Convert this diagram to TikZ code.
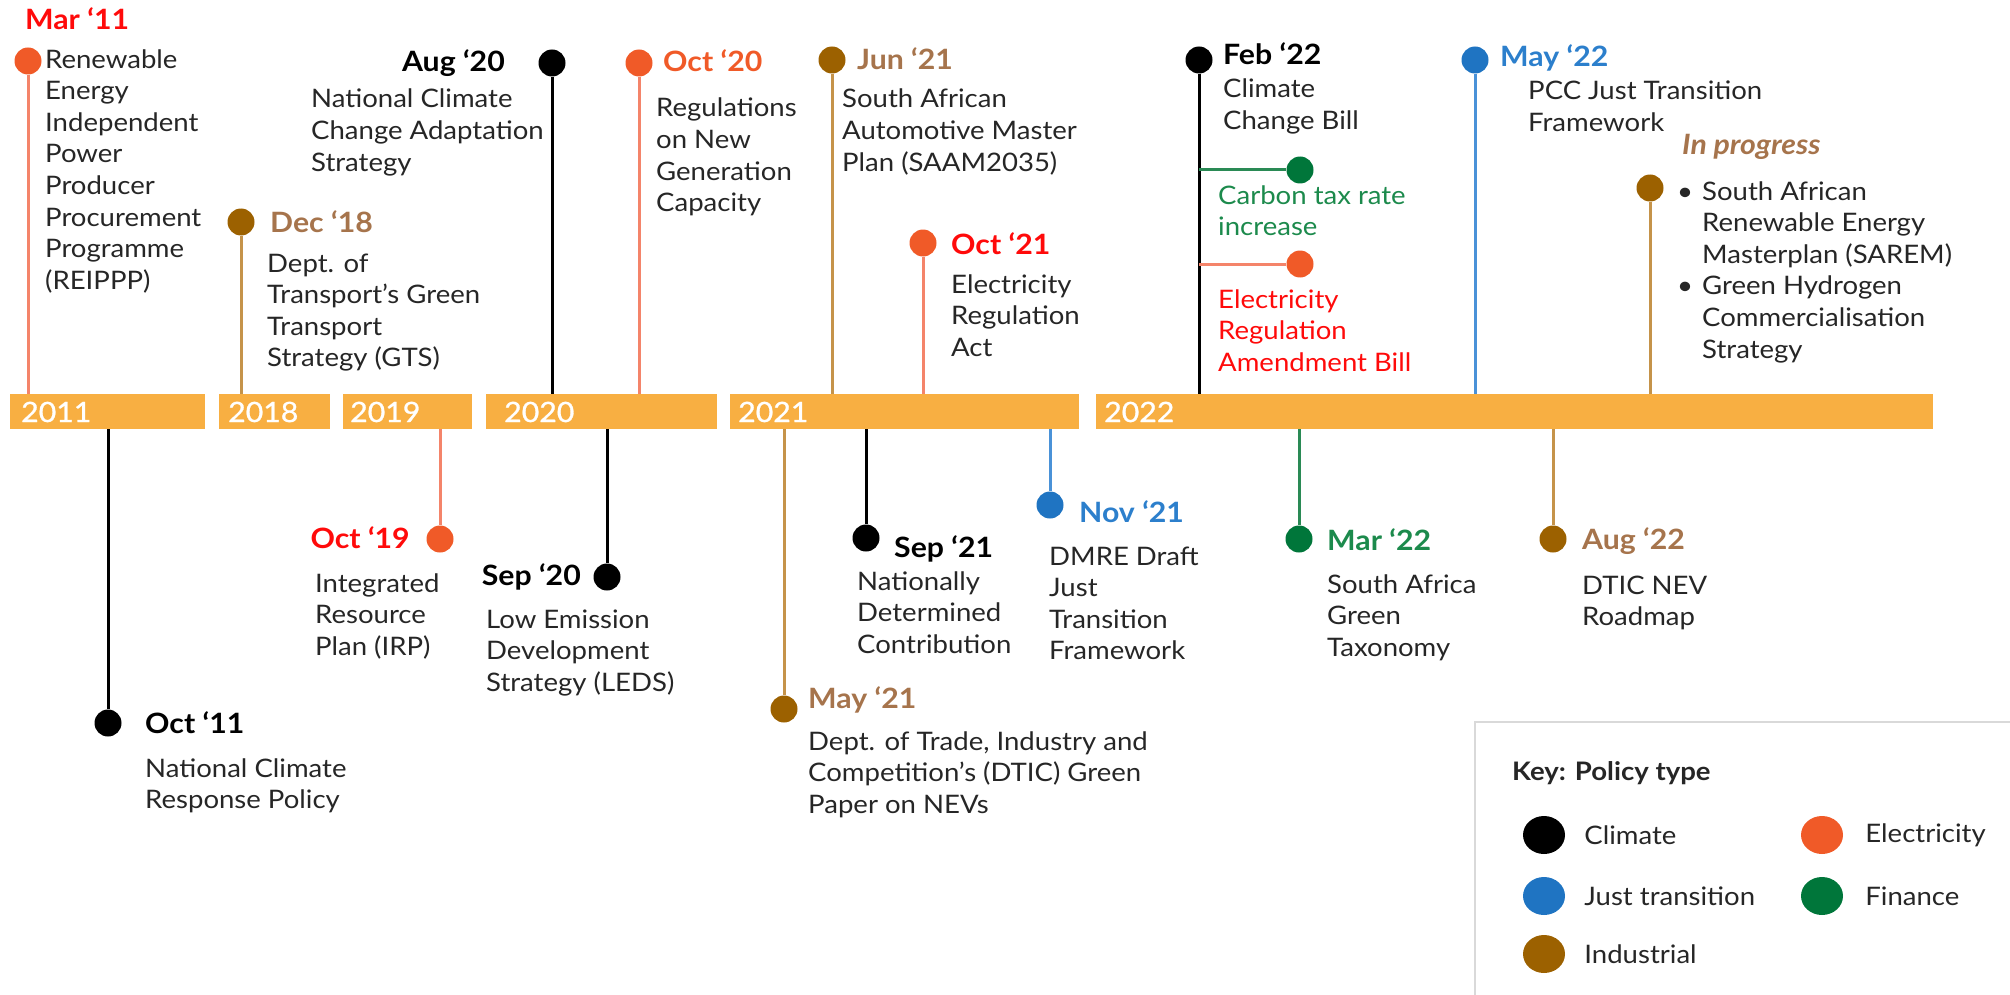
\documentclass[tikz,border=0pt]{standalone}
\usepackage{fontspec}
\setmainfont{Lato}[FakeStretch=1.08]
\newfontfamily\yearfont{Lato}[FakeStretch=1.08,FakeBold=1]
\usetikzlibrary{positioning,shapes.geometric}
\definecolor{barorange}{HTML}{F8AF42}
\definecolor{txtgray}{HTML}{262626}
\definecolor{elecdot}{HTML}{F05A28}
\definecolor{elecline}{HTML}{F4846A}
\definecolor{elecred}{HTML}{FF0A0A}
\definecolor{indusdot}{HTML}{9C6100}
\definecolor{indusline}{HTML}{C5934A}
\definecolor{industext}{HTML}{A6744C}
\definecolor{jtblue}{HTML}{1F74C2}
\definecolor{jtline}{HTML}{4A92D8}
\definecolor{jttext}{HTML}{2C7FCC}
\definecolor{findot}{HTML}{00763A}
\definecolor{finline}{HTML}{2A8A55}
\definecolor{fintext}{HTML}{1C8A4C}
\definecolor{keygray}{HTML}{D9D9D9}

\begin{document}
\begin{tikzpicture}[x=1pt,y=-1pt,
 yearbar/.style={fill=barorange,inner sep=0pt,minimum height=35pt},
 yeartext/.style={text=white,inner sep=0pt,anchor=west,font=\yearfont\fontsize{28}{34}\selectfont},
 evdot/.style={circle,inner sep=0pt,minimum size=27pt,fill=#1},
 evstem/.style={line width=3pt,draw=#1},
 datetext/.style={inner sep=0pt,anchor=base west,font=\fontsize{28}{32}\selectfont\bfseries},
 bodytext/.style={inner sep=0pt,anchor=base west,align=left,text=txtgray,font=\fontsize{25.5}{31.6}\selectfont},
 keydot/.style={ellipse,inner sep=0pt,minimum width=42pt,minimum height=38pt,fill=#1},
 keytext/.style={inner sep=0pt,text=txtgray,font=\fontsize{25.5}{31}\selectfont}
]
\useasboundingbox (0,0) rectangle (2010,995);

% year bars
\node[yearbar,minimum width=195pt] (b2011) at (107.5,411.5) {};
\node[yearbar,minimum width=111pt] (b2018) at (274.5,411.5) {};
\node[yearbar,minimum width=129pt] (b2019) at (407.5,411.5) {};
\node[yearbar,minimum width=231pt] (b2020) at (601.5,411.5) {};
\node[yearbar,minimum width=349pt] (b2021) at (904.5,411.5) {};
\node[yearbar,minimum width=837pt] (b2022) at (1514.5,411.5) {};
\node[yeartext] (y2011) at (21,412) {2011};
\node[yeartext] (y2018) at (228,412) {2018};
\node[yeartext] (y2019) at (350,412) {2019};
\node[yeartext] (y2020) at (504,412) {2020};
\node[yeartext] (y2021) at (738,412) {2021};
\node[yeartext] (y2022) at (1104,412) {2022};

% above the bar (body nodes sit on the baseline of their last line)
\node[evdot=elecdot] (mar11) at (28,61) {};
\node[datetext,text=elecred] (mar11d) at (25,30) {Mar ‘11};
\node[bodytext] (mar11t) at (45,289.2) {Renewable\\Energy\\Independent\\Power\\Producer\\Procurement\\Programme\\(REIPPP)};
\draw[evstem=elecline] (mar11) -- (mar11 |- b2011.north);

\node[evdot=indusdot] (dec18) at (241,222) {};
\node[datetext,text=industext] (dec18d) at (270,233) {Dec ‘18};
\node[bodytext] (dec18t) at (267,366.8) {Dept. of\\Transport’s Green\\Transport\\Strategy (GTS)};
\draw[evstem=indusline] (dec18) -- (dec18 |- b2018.north);

\node[evdot=black] (aug20) at (552,63) {};
\node[datetext,anchor=base east] (aug20d) at (505,72) {Aug ‘20};
\node[bodytext] (aug20t) at (311,171.2) {National Climate\\Change Adaptation\\Strategy};
\draw[evstem=black] (aug20) -- (aug20 |- b2020.north);

\node[evdot=elecdot] (oct20) at (639,63) {};
\node[datetext,text=elecdot] (oct20d) at (663,72) {Oct ‘20};
\node[bodytext] (oct20t) at (656,211.8) {Regulations\\on New\\Generation\\Capacity};
\draw[evstem=elecline] (oct20) -- (oct20 |- b2020.north);

\node[evdot=indusdot] (jun21) at (832,60) {};
\node[datetext,text=industext] (jun21d) at (857,70) {Jun ‘21};
\node[bodytext] (jun21t) at (842,171.2) {South African\\Automotive Master\\Plan (SAAM2035)};
\draw[evstem=indusline] (jun21) -- (jun21 |- b2021.north);

\node[evdot=elecdot] (oct21) at (923,243) {};
\node[datetext,text=elecred] (oct21d) at (951,254) {Oct ‘21};
\node[bodytext] (oct21t) at (951,356.2) {Electricity\\Regulation\\Act};
\draw[evstem=elecline] (oct21) -- (oct21 |- b2021.north);

\node[evdot=black] (feb22) at (1199,60) {};
\node[datetext] (feb22d) at (1223,65) {Feb ‘22};
\node[bodytext] (feb22t) at (1223,129.6) {Climate\\Change Bill};
\draw[evstem=black] (feb22) -- (feb22 |- b2022.north);
\node[evdot=findot] (ctax) at (1300,170) {};
\draw[evstem=finline] (ctax) -- (ctax -| feb22);
\node[bodytext,text=fintext] (ctaxt) at (1218,235.6) {Carbon tax rate\\increase};
\node[evdot=elecdot] (erab) at (1300,264) {};
\draw[evstem=elecline] (erab) -- (erab -| feb22);
\node[bodytext,text=elecred] (erabt) at (1218,371.2) {Electricity\\Regulation\\Amendment Bill};

\node[evdot=jtblue] (may22) at (1475,60) {};
\node[datetext,text=jttext] (may22d) at (1500,67) {May ‘22};
\node[bodytext] (may22t) at (1528,131.6) {PCC Just Transition\\Framework};
\draw[evstem=jtline] (may22) -- (may22 |- b2022.north);

\node[datetext,text=industext,font=\fontsize{28}{32}\selectfont\bfseries\itshape] (progd) at (1682,155) {In progress};
\node[evdot=indusdot] (prog) at (1650,188) {};
\node[bodytext] (progt) at (1702,358) {\llap{•\hspace{9pt}}South African\\Renewable Energy\\Masterplan (SAREM)\\\llap{•\hspace{9pt}}Green Hydrogen\\Commercialisation\\Strategy};
\draw[evstem=indusline] (prog) -- (prog |- b2022.north);

% below the bar
\node[evdot=black] (oct11) at (108,723) {};
\node[datetext] (oct11d) at (145,733) {Oct ‘11};
\node[bodytext] (oct11t) at (145,808.6) {National Climate\\Response Policy};
\draw[evstem=black] (oct11) -- (oct11 |- b2011.south);

\node[evdot=elecdot] (oct19) at (440,539) {};
\node[datetext,anchor=base east,text=elecred] (oct19d) at (410,548) {Oct ‘19};
\node[bodytext] (oct19t) at (315,655.2) {Integrated\\Resource\\Plan (IRP)};
\draw[evstem=elecline] (oct19) -- (oct19 |- b2019.south);

\node[evdot=black] (sep20) at (607,577) {};
\node[datetext,anchor=base east] (sep20d) at (581,585) {Sep ‘20};
\node[bodytext] (sep20t) at (486,691.2) {Low Emission\\Development\\Strategy (LEDS)};
\draw[evstem=black] (sep20) -- (sep20 |- b2020.south);

\node[evdot=indusdot] (may21) at (784,709) {};
\node[datetext,text=industext] (may21d) at (808,708) {May ‘21};
\node[bodytext] (may21t) at (808,813.2) {Dept. of Trade, Industry and\\Competition’s (DTIC) Green\\Paper on NEVs};
\draw[evstem=indusline] (may21) -- (may21 |- b2021.south);

\node[evdot=black] (sep21) at (866,538) {};
\node[datetext] (sep21d) at (894,557) {Sep ‘21};
\node[bodytext] (sep21t) at (857,653.2) {Nationally\\Determined\\Contribution};
\draw[evstem=black] (sep21) -- (sep21 |- b2021.south);

\node[evdot=jtblue] (nov21) at (1050,505) {};
\node[datetext,text=jttext] (nov21d) at (1079,522) {Nov ‘21};
\node[bodytext] (nov21t) at (1049,659.8) {DMRE Draft\\Just\\Transition\\Framework};
\draw[evstem=jtline] (nov21) -- (nov21 |- b2021.south);

\node[evdot=findot] (mar22) at (1299,539) {};
\node[datetext,text=fintext] (mar22d) at (1327,550) {Mar ‘22};
\node[bodytext] (mar22t) at (1327,656.2) {South Africa\\Green\\Taxonomy};
\draw[evstem=finline] (mar22) -- (mar22 |- b2022.south);

\node[evdot=indusdot] (aug22) at (1553,539) {};
\node[datetext,text=industext] (aug22d) at (1582,549) {Aug ‘22};
\node[bodytext] (aug22t) at (1582,625.6) {DTIC NEV\\Roadmap};
\draw[evstem=indusline] (aug22) -- (aug22 |- b2022.south);

% key
\begin{scope}
\clip (0,0) rectangle (2010,995);
\draw[keygray,line width=2pt] (1475,722) rectangle (2060,1040);
\end{scope}
\node[datetext,text=txtgray,font=\fontsize{25.5}{30}\selectfont\bfseries] (keyt) at (1512,780) {Key: Policy type};
\node[keydot=black] (kclim) at (1544,835) {};
\node[keydot=elecdot] (kelec) at (1822,835) {};
\node[keydot=jtblue] (kjust) at (1544,896) {};
\node[keydot=findot] (kfin) at (1822,896) {};
\node[keydot=indusdot] (kind) at (1544,954) {};
\node[keytext,right=19pt of kclim] (kclimt) {Climate};
\node[keytext,right=22pt of kelec] (kelect) {Electricity};
\node[keytext,right=19pt of kjust] (kjustt) {Just transition};
\node[keytext,right=22pt of kfin] (kfint) {Finance};
\node[keytext,right=19pt of kind] (kindt) {Industrial};
\end{tikzpicture}
\end{document}
